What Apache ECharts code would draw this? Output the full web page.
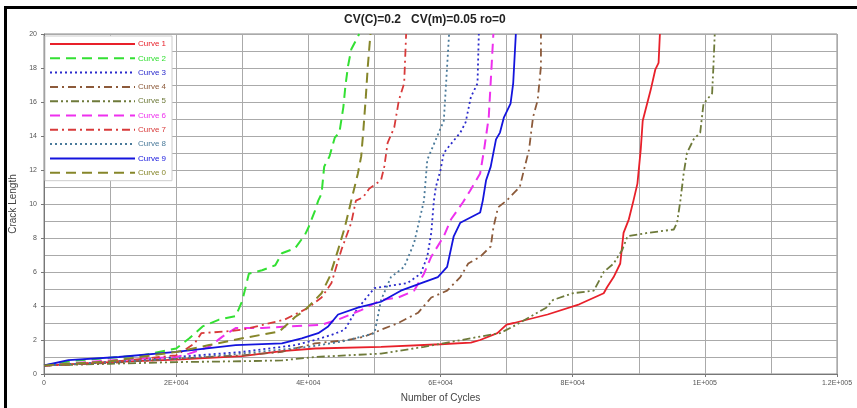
<!DOCTYPE html>
<html>
<head>
<meta charset="utf-8">
<script src="https://cdn.jsdelivr.net/npm/echarts@6/dist/echarts.min.js"></script>
<style>
	html, body { margin: 0; padding: 0; background: #fff; }
	#chart { width: 857px; height: 408px; }
</style>
</head>
<body>
<div id="chart"></div>
<script>
	// curve data, [cycles, crack length]
	var curve1 = [[0,0.5],[5000,0.6],[10000,0.7],[20000,0.85],[30000,1.05],[36000,1.35],[41000,1.5],[51000,1.6],[60000,1.75],[64600,1.85],[66000,2.0],[68600,2.4],[70000,2.9],[71100,3.0],[76200,3.5],[81000,4.1],[84700,4.75],[85200,5.1],[86200,5.7],[87200,6.5],[87700,8.3],[88500,9.1],[89200,10.2],[89800,11.2],[90300,13.2],[90600,14.9],[91000,15.5],[91800,16.7],[92500,17.9],[93000,18.3],[93200,20]];
	var curve2 = [[0,0.5],[5000,0.8],[10000,0.95],[15000,1.1],[20000,1.5],[22000,2.1],[24000,2.8],[26500,3.2],[29000,3.4],[30000,4.3],[31000,5.9],[33000,6.1],[35000,6.4],[36000,7.1],[38000,7.4],[39500,8.2],[40000,8.6],[41000,9.6],[41500,10.2],[42000,10.6],[42400,12.2],[43200,12.8],[44000,13.9],[44700,14.2],[45300,15.7],[45600,16.9],[46000,18.1],[46500,19.1],[47700,20]];
	var curve3 = [[0,0.5],[10000,0.7],[20000,1.0],[30000,1.3],[38000,1.7],[41000,2.0],[43500,2.3],[45500,2.6],[47000,3.6],[48500,4.35],[50000,5.05],[52500,5.2],[55000,5.35],[57000,5.9],[58000,6.9],[58600,8.3],[59000,10.2],[59300,11.0],[60000,12.0],[60500,13.0],[61300,13.4],[63000,14.2],[63800,14.8],[64600,16.3],[65600,17.1],[65800,20]];
	var curve4 = [[0,0.5],[10000,0.65],[20000,0.9],[30000,1.1],[36000,1.3],[41000,1.8],[46000,2.0],[48500,2.2],[51000,2.6],[53600,3.0],[56600,3.6],[58600,4.5],[61000,4.9],[63000,5.7],[64200,6.5],[66000,6.9],[67600,7.5],[68000,8.6],[68700,9.8],[70000,10.2],[72000,11.0],[72500,11.8],[73400,13.2],[74000,15.1],[74700,16.1],[75200,18.1],[75200,20]];
	var curve5 = [[0,0.5],[10000,0.6],[20000,0.7],[30000,0.75],[36000,0.8],[41000,1.0],[51000,1.2],[57500,1.6],[66000,2.2],[69000,2.4],[71000,2.8],[76000,3.9],[77000,4.35],[80000,4.75],[83200,4.9],[84700,6.0],[86200,6.5],[87500,7.3],[88300,8.1],[91300,8.3],[95300,8.5],[95800,8.9],[96300,10.2],[96800,11.8],[97300,13.0],[98300,13.8],[99300,14.2],[99800,15.9],[101100,16.5],[101300,18.1],[101500,20]];
	var curve6 = [[0,0.5],[10000,0.8],[20000,1.0],[22000,1.2],[25000,1.6],[27000,2.2],[29000,2.7],[33000,2.7],[37000,2.8],[42000,2.9],[44500,3.2],[48000,3.76],[51000,4.35],[53600,4.5],[56000,4.9],[57500,5.9],[58600,6.9],[60500,8.1],[61600,9.1],[63400,10.1],[64500,10.8],[66000,11.8],[66600,13.2],[67300,15.1],[68000,20]];
	var curve7 = [[0,0.5],[10000,0.7],[20000,1.1],[22800,1.8],[23800,2.4],[27300,2.5],[30000,2.6],[36400,3.2],[38500,3.6],[40000,3.9],[42000,4.5],[43500,5.35],[45000,7.3],[46500,8.9],[47200,10.2],[48300,10.4],[49200,10.9],[51000,11.4],[51500,12.2],[52000,13.6],[53000,14.5],[53700,16.1],[54500,17.1],[54800,20]];
	var curve8 = [[0,0.5],[10000,0.7],[20000,0.9],[30000,1.2],[40000,1.6],[45000,1.9],[48000,2.2],[50000,2.4],[50500,3.35],[51000,4.35],[52500,5.7],[54500,6.3],[56000,7.7],[57500,10.2],[58000,12.6],[60500,14.9],[61300,20]];
	var curve9 = [[0,0.5],[3700,0.82],[11300,1.0],[20000,1.3],[29000,1.7],[36000,1.8],[39000,2.1],[41500,2.4],[43000,2.8],[44500,3.5],[47500,3.9],[51000,4.25],[54000,4.9],[57500,5.4],[59600,5.7],[61000,6.3],[62000,8.1],[63000,8.9],[66000,9.5],[66400,10.2],[66900,11.4],[67600,12.2],[68400,13.8],[69000,14.2],[69600,15.1],[70600,15.9],[71000,17.1],[71400,20]];
	var curve0 = [[0,0.5],[10000,0.75],[20000,1.3],[25000,1.7],[30000,2.1],[35600,2.5],[38000,3.35],[39500,3.76],[41000,4.35],[42000,4.75],[43200,5.7],[44500,7.3],[45500,8.6],[46500,10.2],[47500,11.8],[48000,12.8],[48300,14.2],[48700,16.3],[49000,18.1],[49400,20]];

	var names = ['Curve 1', 'Curve 2', 'Curve 3', 'Curve 4', 'Curve 5', 'Curve 6', 'Curve 7', 'Curve 8', 'Curve 9', 'Curve 0'];
	var curves = [curve1, curve2, curve3, curve4, curve5, curve6, curve7, curve8, curve9, curve0];
	var colors = ['#e8202a', '#33e033', '#2a2acc', '#8c5a3a', '#6e7a3a', '#ee30ee', '#d83a3a', '#4a7a9a', '#1414dd', '#86862a'];
	var dashes = ['solid', [10, 6], [2, 3], [8, 4, 2, 4], [8, 3, 2, 3, 2, 3], [10, 6], [8, 4, 2, 4], [2, 3], 'solid', [10, 6]];
	var widths = [1.8, 2, 1.8, 1.8, 1.8, 2, 1.8, 1.8, 1.8, 2];

	// 2E+004 style labels
	function sciLabel(v) {
		if (v === 0) return '0';
		var e = Math.floor(Math.log10(v));
		var m = Math.round(v / Math.pow(10, e) * 10) / 10;
		var s = String(e);
		while (s.length < 3) s = '0' + s;
		return m + 'E+' + s;
	}

	var seriesList = [];
	for (var i = 0; i < curves.length; i++) {
		seriesList.push({
			name: names[i],
			type: 'line',
			data: curves[i],
			symbol: 'none',
			lineStyle: { color: colors[i], width: widths[i], type: dashes[i] },
			itemStyle: { color: colors[i], opacity: 0 },
			animation: false
		});
	}

	var myChart = echarts.init(document.getElementById('chart'));
	myChart.setOption({
		backgroundColor: '#fff',
		title: {
			text: 'CV(C)=0.2   CV(m)=0.05 ro=0',
			left: 339,
			top: 9,
			textStyle: { fontSize: 12, fontWeight: 'bold', color: '#222', fontFamily: 'Liberation Sans' }
		},
		grid: { left: 42, right: 20, top: 34, bottom: 34, show: true, borderColor: '#888', borderWidth: 1 },
		legend: {
			orient: 'vertical',
			left: 45,
			top: 36,
			itemWidth: 85,
			itemHeight: 10,
			itemGap: 6.3,
			padding: [4, 6, 4, 4],
			backgroundColor: '#fff',
			borderColor: '#ccc',
			borderWidth: 1,
			itemStyle: { opacity: 0 },
			data: names.map(function (n, i) {
				return { name: n, textStyle: { color: colors[i] } };
			}),
			textStyle: { fontSize: 8, fontFamily: 'Liberation Sans', padding: [0, 0, 0, -2] }
		},
		xAxis: {
			type: 'value',
			min: 0,
			max: 120000,
			interval: 20000,
			name: 'Number of Cycles',
			nameLocation: 'middle',
			nameGap: 19,
			nameTextStyle: { fontSize: 10, color: '#444', fontFamily: 'Liberation Sans' },
			axisLine: { show: true, lineStyle: { color: '#777' } },
			axisTick: { show: true, length: 3, lineStyle: { color: '#777' } },
			axisLabel: { fontSize: 7, color: '#555', margin: 6, formatter: sciLabel },
			splitLine: { show: true, lineStyle: { color: '#aaa' } },
			minorSplitLine: { show: true, lineStyle: { color: '#aaa' } },
			minorTick: { show: false, splitNumber: 2 }
		},
		yAxis: {
			type: 'value',
			min: 0,
			max: 20,
			interval: 2,
			name: 'Crack Length',
			nameLocation: 'middle',
			nameGap: 26,
			nameTextStyle: { fontSize: 10, color: '#444', fontFamily: 'Liberation Sans' },
			axisLine: { show: true, lineStyle: { color: '#777' } },
			axisTick: { show: true, length: 3, lineStyle: { color: '#777' } },
			axisLabel: { fontSize: 7, color: '#555', margin: 7 },
			splitLine: { show: true, lineStyle: { color: '#aaa' } },
			minorSplitLine: { show: true, lineStyle: { color: '#aaa' } },
			minorTick: { show: false, splitNumber: 2 }
		},
		graphic: [
			// black frame on top and left
			{ type: 'rect', shape: { x: 4, y: 6, width: 853, height: 3 }, style: { fill: '#000' }, z: 100 },
			{ type: 'rect', shape: { x: 4, y: 6, width: 3, height: 402 }, style: { fill: '#000' }, z: 100 }
		],
		series: seriesList
	});
</script>
</body>
</html>
